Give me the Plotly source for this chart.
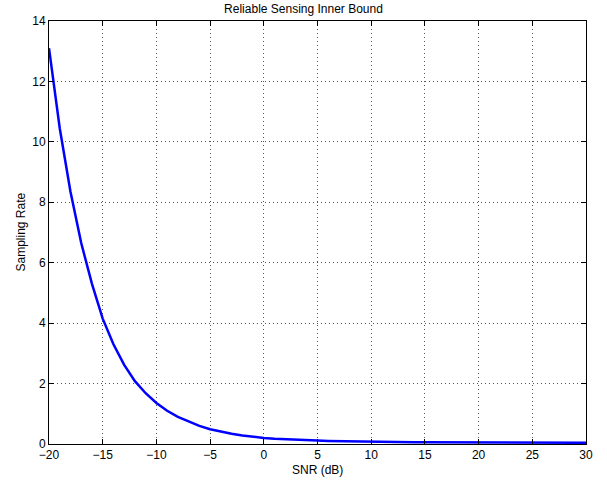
import plotly.graph_objects as go

snr_db = list(range(-20, 31))
sampling_rate = [
    13.10, 10.45, 8.35, 6.65, 5.30, 4.15, 3.30, 2.62, 2.08, 1.68,
    1.36, 1.10, 0.90, 0.74, 0.60, 0.49, 0.41, 0.34, 0.285, 0.24,
    0.20, 0.175, 0.155, 0.138, 0.124, 0.112, 0.102, 0.094, 0.087, 0.081,
    0.076, 0.072, 0.068, 0.065, 0.062, 0.060, 0.058, 0.056, 0.054, 0.052,
    0.050, 0.049, 0.048, 0.047, 0.046, 0.045, 0.044, 0.043, 0.042, 0.041,
    0.040,
]
x_ticks = [-20, -15, -10, -5, 0, 5, 10, 15, 20, 25, 30]
y_ticks = [0, 2, 4, 6, 8, 10, 12, 14]

FONT = "Liberation Sans, Helvetica, Arial, sans-serif"
W, H = 607, 481

fig = go.Figure()
fig.add_trace(go.Scatter(
    x=snr_db, y=sampling_rate, mode="lines",
    line=dict(color="#0000ff", width=2.5),
    showlegend=False, hoverinfo="skip",
))

axis_common = dict(
    showline=True, linecolor="black", linewidth=1, mirror="ticks",
    ticks="inside", ticklen=5, tickcolor="black", tickwidth=1,
    showgrid=True, gridcolor="#555555", gridwidth=1, griddash="1px,3px",
    zeroline=False, automargin=False,
    tickfont=dict(family=FONT, size=12, color="black"),
)

fig.update_layout(
    width=W, height=H,
    margin=dict(l=49, r=21, t=21, b=37),
    paper_bgcolor="white", plot_bgcolor="white",
    font=dict(family=FONT, size=12, color="black"),
    title=dict(text="Reliable Sensing Inner Bound", x=0.5, xanchor="center",
               y=1 - 8.5 / H, yanchor="middle", yref="container",
               font=dict(family=FONT, size=12, color="black")),
    xaxis=dict(range=[-20, 30], tickvals=x_ticks, **axis_common),
    yaxis=dict(range=[0, 14], tickvals=y_ticks, **axis_common),
    annotations=[
        dict(text="SNR (dB)", xref="paper", yref="paper", x=0.5, y=0,
             xanchor="center", yanchor="middle", yshift=-26, showarrow=False,
             font=dict(family=FONT, size=12, color="black")),
        dict(text="Sampling Rate", xref="paper", yref="paper", x=0, y=0.5,
             xanchor="center", yanchor="middle", xshift=-29, textangle=-90,
             showarrow=False, font=dict(family=FONT, size=12, color="black")),
    ],
)

# remove the page's default 8px body margin so the figure sits at (0, 0)
fig.write_html(
    "out.html",
    config={"displayModeBar": False, "staticPlot": True},
    post_script="document.body.style.margin='0';document.body.style.overflow='hidden';",
)
